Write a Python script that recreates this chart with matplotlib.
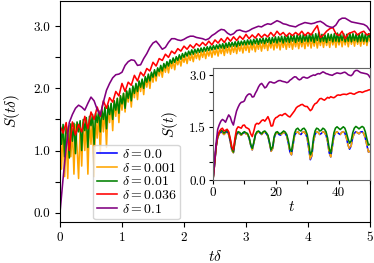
import numpy as np
import matplotlib
matplotlib.use("Agg")
import matplotlib.pyplot as plt

plt.rcParams['font.family'] = 'serif'
plt.rcParams['font.serif'] = ['cmr10', 'DejaVu Serif']
plt.rcParams['mathtext.fontset'] = 'cm'
plt.rcParams['axes.unicode_minus'] = False

# ---- data: main panel, S vs t*delta ----
x_fine = np.round(np.arange(0, 201) * 0.025, 3)   # 0..5 step 0.025
x_main = np.round(np.arange(0, 101) * 0.05, 2)    # 0..5 step 0.05

S_d0001 = [1.30, 0.70, 1.38, 0.58, 1.25, 0.55, 1.40, 0.90, 1.35, 0.62,
           1.42, 1.05, 0.55, 1.40, 0.75, 1.45, 1.00, 1.48, 0.62, 1.50,
           1.10, 1.55, 0.58, 1.52, 1.20, 1.60, 0.95, 1.62, 1.30, 1.68,
           1.05, 1.70, 1.45, 1.75, 1.32, 1.80, 1.55, 1.84, 1.45, 1.88,
           1.65, 1.92, 1.62, 1.95, 1.78, 1.98, 1.70, 2.02, 1.85, 2.06,
           1.82, 2.10, 1.95, 2.13, 1.90, 2.16, 2.02, 2.20, 2.00, 2.24,
           2.10, 2.27, 2.12, 2.30, 2.20, 2.33, 2.18, 2.36, 2.26, 2.39,
           2.25, 2.42, 2.32, 2.44, 2.30, 2.46, 2.38, 2.48, 2.36, 2.50,
           2.42, 2.52, 2.40, 2.54, 2.45, 2.55, 2.43, 2.57, 2.48, 2.58,
           2.46, 2.59, 2.50, 2.60, 2.48, 2.61, 2.52, 2.62, 2.50, 2.63,
           2.54, 2.64, 2.52, 2.65, 2.56, 2.66, 2.53, 2.67, 2.57, 2.68,
           2.55, 2.68, 2.58, 2.69, 2.56, 2.70, 2.60, 2.70, 2.57, 2.71,
           2.61, 2.72, 2.58, 2.72, 2.62, 2.73, 2.59, 2.73, 2.63, 2.74,
           2.60, 2.74, 2.64, 2.75, 2.61, 2.75, 2.65, 2.76, 2.62, 2.76,
           2.65, 2.77, 2.62, 2.77, 2.66, 2.77, 2.63, 2.78, 2.66, 2.78,
           2.63, 2.78, 2.67, 2.79, 2.64, 2.79, 2.67, 2.79, 2.64, 2.80,
           2.68, 2.80, 2.65, 2.80, 2.68, 2.81, 2.65, 2.80, 2.69, 2.81,
           2.66, 2.81, 2.69, 2.81, 2.66, 2.82, 2.70, 2.81, 2.66, 2.82,
           2.70, 2.82, 2.67, 2.82, 2.70, 2.82, 2.67, 2.83, 2.71, 2.82,
           2.68, 2.83, 2.71, 2.82, 2.68, 2.83, 2.71, 2.82, 2.69, 2.82,
           2.76]

S_d001 = [1.38, 1.10, 1.42, 0.90, 1.40, 1.25, 0.88, 1.43, 1.15, 1.44,
          0.95, 1.46, 1.30, 1.48, 1.00, 1.50, 1.32, 1.53, 1.05, 1.55,
          1.40, 1.58, 1.10, 1.60, 1.45, 1.64, 1.30, 1.66, 1.50, 1.70,
          1.35, 1.73, 1.58, 1.76, 1.50, 1.80, 1.65, 1.84, 1.60, 1.88,
          1.75, 1.92, 1.68, 1.96, 1.84, 2.00, 1.80, 2.04, 1.92, 2.08,
          1.95, 2.12, 2.02, 2.15, 2.00, 2.19, 2.10, 2.23, 2.12, 2.26,
          2.18, 2.30, 2.20, 2.33, 2.27, 2.37, 2.28, 2.40, 2.33, 2.43,
          2.36, 2.46, 2.40, 2.49, 2.42, 2.51, 2.45, 2.54, 2.47, 2.56,
          2.50, 2.58, 2.52, 2.60, 2.54, 2.62, 2.55, 2.63, 2.57, 2.64,
          2.58, 2.65, 2.59, 2.66, 2.60, 2.67, 2.61, 2.68, 2.62, 2.69,
          2.63, 2.70, 2.64, 2.71, 2.65, 2.72, 2.64, 2.73, 2.66, 2.74,
          2.67, 2.74, 2.68, 2.75, 2.67, 2.76, 2.69, 2.76, 2.70, 2.77,
          2.70, 2.78, 2.71, 2.78, 2.70, 2.79, 2.72, 2.80, 2.71, 2.80,
          2.73, 2.81, 2.72, 2.81, 2.74, 2.82, 2.72, 2.82, 2.74, 2.83,
          2.73, 2.83, 2.75, 2.84, 2.73, 2.84, 2.75, 2.85, 2.74, 2.85,
          2.76, 2.85, 2.74, 2.86, 2.76, 2.86, 2.74, 2.87, 2.76, 2.86,
          2.75, 2.88, 2.76, 2.87, 2.74, 2.88, 2.77, 2.90, 2.75, 2.87,
          2.76, 2.86, 2.74, 2.88, 2.77, 2.87, 2.75, 2.88, 2.76, 2.89,
          2.75, 2.87, 2.77, 2.88, 2.75, 2.87, 2.76, 2.89, 2.75, 2.88,
          2.77, 2.87, 2.75, 2.88, 2.76, 2.89, 2.76, 2.87, 2.75, 2.88,
          2.82]

S_d0036 = [1.40, 1.28, 1.45, 1.00, 1.46, 1.25, 1.42, 1.30, 1.55, 1.35,
           1.62, 1.50, 1.70, 1.55, 1.80, 1.68, 1.85, 1.78, 1.95, 1.88,
           2.08, 1.95, 2.10, 2.05, 2.21, 2.12, 2.26, 2.20, 2.32, 2.28,
           2.42, 2.36, 2.48, 2.45, 2.55, 2.50, 2.60, 2.56, 2.64, 2.60,
           2.68, 2.63, 2.70, 2.65, 2.72, 2.68, 2.74, 2.69, 2.76, 2.70,
           2.78, 2.73, 2.80, 2.74, 2.82, 2.76, 2.83, 2.77, 2.84, 2.79,
           2.87, 2.80, 2.86, 2.81, 2.88, 2.82, 2.87, 2.83, 2.90, 2.84,
           2.92, 2.86, 2.90, 2.84, 2.89, 2.85, 2.90, 2.86, 2.92, 2.85,
           2.90, 2.86, 2.94, 3.01, 2.82, 2.86, 2.92, 2.96, 2.98, 2.88,
           2.85, 2.92, 2.80, 2.88, 2.90, 2.92, 2.86, 2.90, 2.92, 2.86,
           2.88]

S_d01 = [0.00, 0.55, 1.06, 1.45, 1.58, 1.68, 1.73, 1.70, 1.65, 1.76,
         1.86, 1.80, 1.66, 1.57, 1.78, 1.97, 2.08, 2.17, 2.22, 2.23,
         2.26, 2.37, 2.43, 2.46, 2.45, 2.37, 2.38, 2.48, 2.56, 2.66,
         2.73, 2.76, 2.70, 2.63, 2.66, 2.74, 2.80, 2.80, 2.78, 2.77,
         2.79, 2.82, 2.84, 2.84, 2.82, 2.81, 2.80, 2.78, 2.80, 2.85,
         2.88, 2.92, 2.95, 2.94, 2.89, 2.86, 2.88, 2.93, 2.94, 2.92,
         2.91, 2.93, 2.96, 2.98, 3.00, 2.99, 3.02, 3.04, 3.03, 3.06,
         3.09, 3.07, 3.04, 3.03, 3.01, 3.00, 2.99, 3.02, 3.04, 3.06,
         3.05, 3.04, 3.05, 3.07, 3.08, 3.05, 3.01, 2.99, 2.98, 3.02,
         3.10, 3.13, 3.13, 3.10, 3.07, 3.06, 3.05, 3.04, 3.03, 3.00,
         2.93]

# ---- data: inset, S vs t (grid 0..50 step 0.5) ----
t_in = np.round(np.arange(0, 101) * 0.5, 1)

Si_d0001 = [0.00, 0.45, 0.95, 1.22, 1.32, 1.38, 1.35, 1.30, 1.35, 1.38,
            1.30, 1.10, 0.85, 0.78, 1.10, 1.30, 1.35, 1.32, 1.28, 1.33,
            1.36, 1.32, 1.30, 1.20, 1.00, 0.86, 1.05, 1.28, 1.35, 1.38,
            1.34, 1.30, 1.36, 1.37, 1.32, 1.25, 1.05, 0.82, 0.90, 1.20,
            1.33, 1.36, 1.30, 1.28, 1.33, 1.36, 1.33, 1.25, 1.05, 0.80,
            0.72, 1.00, 1.28, 1.35, 1.38, 1.32, 1.30, 1.36, 1.38, 1.32,
            1.20, 0.90, 0.58, 0.70, 1.10, 1.30, 1.38, 1.36, 1.30, 1.33,
            1.38, 1.36, 1.28, 1.10, 0.78, 0.66, 0.95, 1.25, 1.35, 1.38,
            1.33, 1.30, 1.36, 1.38, 1.34, 1.20, 1.00, 0.88, 0.98, 1.22,
            1.33, 1.38, 1.35, 1.32, 1.37, 1.38, 1.33, 1.20, 1.00, 0.80,
            0.82]
Si_d0 = list(Si_d0001)  # indistinguishable from delta=0.001 at this scale

Si_d001 = [0.00, 0.45, 0.95, 1.24, 1.35, 1.42, 1.40, 1.34, 1.38, 1.42,
           1.35, 1.15, 0.90, 0.80, 1.12, 1.33, 1.38, 1.36, 1.30, 1.35,
           1.38, 1.35, 1.33, 1.22, 1.02, 0.90, 1.08, 1.30, 1.38, 1.40,
           1.36, 1.32, 1.38, 1.40, 1.35, 1.28, 1.08, 0.86, 0.95, 1.25,
           1.36, 1.38, 1.33, 1.32, 1.36, 1.40, 1.37, 1.30, 1.12, 0.88,
           0.82, 1.10, 1.35, 1.45, 1.48, 1.42, 1.40, 1.46, 1.48, 1.42,
           1.30, 1.05, 0.72, 0.82, 1.20, 1.40, 1.48, 1.46, 1.40, 1.42,
           1.48, 1.45, 1.38, 1.20, 0.90, 0.77, 1.05, 1.35, 1.48, 1.52,
           1.48, 1.44, 1.48, 1.52, 1.48, 1.35, 1.18, 1.05, 1.12, 1.35,
           1.48, 1.53, 1.50, 1.46, 1.50, 1.53, 1.50, 1.38, 1.18, 1.00,
           1.02]

Si_d0036 = [0.00, 0.45, 0.97, 1.26, 1.38, 1.45, 1.48, 1.40, 1.42, 1.45,
            1.38, 1.18, 0.95, 0.86, 1.20, 1.45, 1.52, 1.50, 1.48, 1.56,
            1.57, 1.50, 1.48, 1.45, 1.32, 1.24, 1.40, 1.58, 1.62, 1.60,
            1.64, 1.70, 1.72, 1.68, 1.74, 1.81, 1.70, 1.54, 1.55, 1.72,
            1.78, 1.80, 1.84, 1.86, 1.84, 1.88, 1.90, 1.86, 1.82, 1.80,
            1.86, 1.92, 1.98, 2.06, 2.10, 2.12, 2.15, 2.16, 2.12, 2.10,
            2.10, 2.04, 1.98, 2.02, 2.12, 2.18, 2.20, 2.26, 2.32, 2.33,
            2.30, 2.28, 2.32, 2.36, 2.34, 2.38, 2.36, 2.35, 2.38, 2.42,
            2.43, 2.42, 2.44, 2.45, 2.45, 2.44, 2.46, 2.48, 2.48, 2.46,
            2.45, 2.48, 2.50, 2.52, 2.52, 2.50, 2.52, 2.54, 2.55, 2.57,
            2.58]

deltas = [0.0, 0.001, 0.01, 0.036, 0.1]
labels = [r'$\delta = 0.0$', r'$\delta = 0.001$', r'$\delta = 0.01$',
          r'$\delta = 0.036$', r'$\delta = 0.1$']
colors = ['blue', 'orange', 'green', 'red', 'purple']

fig = plt.figure(figsize=(3.74, 2.63), dpi=100)
ax = fig.add_axes([0.1604, 0.156, 0.8289, 0.841])
lw = 1.15

# delta = 0 collapses to t*delta = 0 in the main panel -> legend entry only
ax.plot([], [], color=colors[0], lw=lw, label=labels[0])
ax.plot(x_fine, S_d0001, color=colors[1], lw=lw, label=labels[1])
ax.plot(x_fine, S_d001, color=colors[2], lw=lw, label=labels[2])
ax.plot(x_main, S_d0036, color=colors[3], lw=lw, label=labels[3])
ax.plot(x_main, S_d01, color=colors[4], lw=lw, label=labels[4])

ax.set_xlim(0, 5)
ax.set_ylim(-0.15, 3.41)
ax.set_xticks([0, 1, 2, 3, 4, 5])
ax.set_xticklabels(['0', '1', '2', '3', '4', '5'])
ax.set_yticks(np.arange(0, 3.01, 0.5))
ax.set_yticklabels(['0.0', '', '1.0', '', '2.0', '', '3.0'])
ax.tick_params(labelsize=9.5, length=3.5, width=0.8)
ax.set_xlabel(r'$t\delta$', fontsize=11, labelpad=4)
ax.set_ylabel(r'$S(t\delta)$', fontsize=11, labelpad=8)

ax.legend(loc='lower left', bbox_to_anchor=(0.107, 0.012), borderaxespad=0,
          fontsize=10, handlelength=1.5, handletextpad=0.3, labelspacing=0.05,
          borderpad=0.25)

# ---- inset ----
axi = fig.add_axes([0.5695, 0.3156, 0.4198, 0.4259])
axi.plot(t_in, Si_d0, color=colors[0], lw=lw)
axi.plot(t_in, Si_d0001, color=colors[1], lw=lw, ls='--')
axi.plot(t_in, Si_d001, color=colors[2], lw=lw)
axi.plot(t_in, Si_d0036, color=colors[3], lw=lw)
axi.plot(x_main / deltas[4], S_d01, color=colors[4], lw=lw)
axi.set_xlim(0, 50)
axi.set_ylim(0, 3.2)
axi.set_xticks([0, 10, 20, 30, 40, 50])
axi.set_xticklabels(['0', '', '20', '', '40', ''])
axi.set_yticks(np.arange(0, 3.01, 0.5))
axi.set_yticklabels(['0.0', '', '', '1.5', '', '', '3.0'])
axi.tick_params(labelsize=9.5, length=3, width=0.8, pad=2)
for s in axi.spines.values():
    s.set_color('0.4')
axi.set_xlabel(r'$t$', fontsize=11, labelpad=1)
axi.set_ylabel(r'$S(t)$', fontsize=11, labelpad=7)

fig.savefig('out.png', dpi=100)
